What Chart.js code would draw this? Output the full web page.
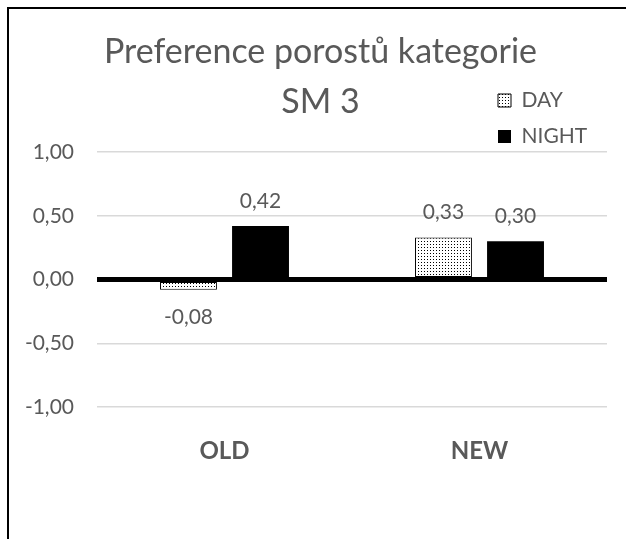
<!DOCTYPE html>
<html>
<head>
<meta charset="utf-8">
<script src="https://cdn.jsdelivr.net/npm/chart.js@4.4.1/dist/chart.umd.min.js"></script>
<style>
  html, body { margin: 0; padding: 0; background: #fff; }
  #wrap { position: relative; width: 626px; height: 539px; overflow: hidden; }
  #frame { position: absolute; left: 7px; top: 7px; width: 700px; height: 700px;
           border-top: 2px solid #000; border-left: 2px solid #000; box-sizing: border-box; pointer-events: none; }
  canvas { position: absolute; left: 0; top: 0; }
</style>
</head>
<body>
<div id="wrap">
  <canvas id="c" width="626" height="539"></canvas>
  <div id="frame"></div>
</div>
<script>
const titleLines = ['Preference porostů kategorie', 'SM 3'];
const categories = ['OLD', 'NEW'];
const seriesNames = ['DAY', 'NIGHT'];
const dayValues = [-0.08, 0.33];
const nightValues = [0.42, 0.30];
const yMin = -1, yMax = 1, yStep = 0.5;

const fmt = v => v.toFixed(2).replace('.', ',');
const TEXT = '#595959';
const FONT = 'Lato, "Open Sans", sans-serif';

const cv = document.getElementById('c');
const ctx = cv.getContext('2d');

// dotted pattern for DAY
const pc = document.createElement('canvas');
pc.width = 3; pc.height = 3;
const pctx = pc.getContext('2d');
pctx.fillStyle = '#fff'; pctx.fillRect(0, 0, 3, 3);
pctx.fillStyle = '#000'; pctx.fillRect(1, 1, 1, 1);
const dotPattern = ctx.createPattern(pc, 'repeat');

const valueLabels = {
  id: 'valueLabels',
  afterDatasetsDraw(chart) {
    const c = chart.ctx;
    c.save();
    c.font = '21px ' + FONT;
    c.fillStyle = TEXT;
    c.textAlign = 'center';
    c.textBaseline = 'middle';
    chart.data.datasets.forEach((ds, di) => {
      const meta = chart.getDatasetMeta(di);
      meta.data.forEach((el, i) => {
        const v = ds.data[i];
        const y = v >= 0 ? el.y - 25 : el.y + 27;
        c.fillText(fmt(v), el.x, y);
      });
    });
    c.restore();
  }
};

const moveBoxes = {
  id: 'moveBoxes',
  afterUpdate(chart) {
    const lg = chart.legend;
    if (lg) {
      const L = 483, T = 75;
      const w = lg.width, h = lg.height;
      lg.left = L; lg.top = T; lg.right = L + w; lg.bottom = T + h;
      if (lg.adjustHitBoxes) lg.adjustHitBoxes();
    }
    const tt = chart.titleBlock;
    if (tt) {
      const dx = 17;
      tt.left += dx; tt.right += dx;
    }
  }
};

new Chart(cv, {
  type: 'bar',
  data: {
    labels: categories,
    datasets: [
      { label: seriesNames[0], data: dayValues, backgroundColor: dotPattern, borderColor: '#000', borderWidth: 1, borderSkipped: false },
      { label: seriesNames[1], data: nightValues, backgroundColor: '#000', borderColor: '#000', borderWidth: 0 }
    ]
  },
  options: {
    responsive: false,
    animation: false,
    devicePixelRatio: 1,
    layout: { padding: { left: 0, right: 19, top: 0, bottom: 43 } },
    datasets: { bar: { categoryPercentage: 0.565, barPercentage: 0.79 } },
    plugins: {
      title: {
        display: true,
        text: titleLines,
        color: TEXT,
        font: { family: FONT, size: 34, weight: 'normal', lineHeight: 50 / 34 },
        padding: { top: 27, bottom: 25 }
      },
      legend: {
        display: true,
        position: 'chartArea',
        align: 'start',
        labels: {
          color: TEXT,
          font: { family: FONT, size: 21 },
          boxWidth: 13,
          boxHeight: 13,
          padding: 15
        }
      },
      tooltip: { enabled: false }
    },
    scales: {
      x: {
        grid: { display: false, drawTicks: false },
        border: { display: false },
        ticks: { color: TEXT, padding: 30, font: { family: FONT, size: 24, weight: 'bold' } }
      },
      y: {
        min: yMin, max: yMax,
        afterFit(scale) { scale.width = 97; },
        grid: {
          drawTicks: false,
          color: ctx => (ctx.tick && ctx.tick.value === 0) ? '#000' : '#d9d9d9',
          lineWidth: ctx => (ctx.tick && ctx.tick.value === 0) ? 5 : 1.5
        },
        border: { display: false },
        ticks: {
          stepSize: yStep,
          padding: 23,
          color: TEXT,
          font: { family: FONT, size: 21 },
          callback: v => fmt(v)
        }
      }
    }
  },
  plugins: [valueLabels, moveBoxes]
});
</script>
</body>
</html>
